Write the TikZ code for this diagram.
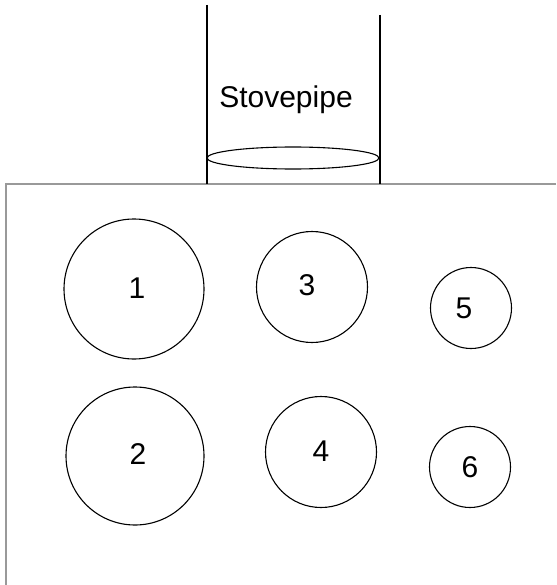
\documentclass[tikz,border=0pt]{standalone}
\usepackage{fontspec}
\setmainfont{Liberation Sans}
\usetikzlibrary{shapes.geometric}
\begin{document}
\begin{tikzpicture}[x=1pt,y=-1pt,
  burner/.style={circle,draw=black,line width=1.1pt,inner sep=0pt},
  lbl/.style={font=\fontsize{30}{33}\selectfont},
  wall/.style={draw=black!40,line width=1.5pt},
  pipe/.style={draw=black,line width=1.2pt}]
\useasboundingbox (0,0) rectangle (556,585);
% stove outline
\coordinate (ctl) at (6,184);
\coordinate (ctr) at (556,184);
\coordinate (cbl) at (6,585);
\draw[wall] (ctr) -- (ctl) -- (cbl);
% stovepipe
\coordinate (pl1) at (207,5);
\coordinate (pl2) at (207,184);
\coordinate (pr1) at (380,15);
\coordinate (pr2) at (380,184);
\draw[pipe] (pl1) -- (pl2);
\draw[pipe] (pr1) -- (pr2);
\node[ellipse,draw=black,line width=1.1pt,minimum width=172pt,minimum height=22pt,inner sep=0pt] (ell) at (293,158) {};
\node[lbl] (sp) at (286,100) {Stovepipe};
% burners
\node[burner,minimum size=140pt] (b1) at (134,289) {};
\node[burner,minimum size=138pt] (b2) at (135,456) {};
\node[burner,minimum size=111pt] (b3) at (312,287) {};
\node[burner,minimum size=111pt] (b4) at (321,452) {};
\node[burner,minimum size=81pt] (b5) at (471,308) {};
\node[burner,minimum size=81pt] (b6) at (470,467) {};
\node[lbl] (t1) at (137,288) {1};
\node[lbl] (t2) at (138,454) {2};
\node[lbl] (t3) at (307,285) {3};
\node[lbl] (t4) at (321,451) {4};
\node[lbl] (t5) at (464,308) {5};
\node[lbl] (t6) at (470,467) {6};
\end{tikzpicture}
\end{document}
